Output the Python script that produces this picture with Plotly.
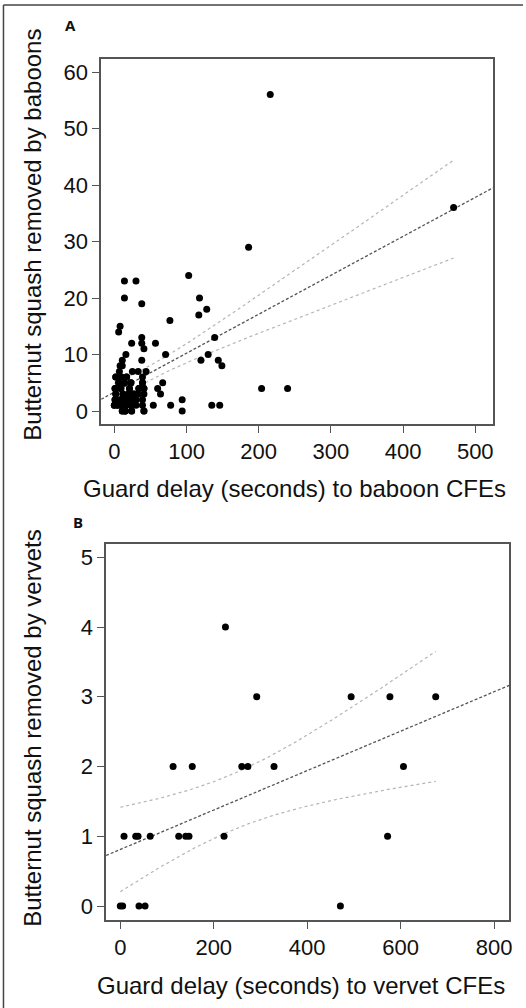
import numpy as np
import plotly.graph_objects as go

# ---------------- data ----------------
# Panel A: baboons (many points in the low cluster are overplotted)
baboon_delay = [216, 470, 186, 103, 14, 30, 14, 118, 38, 128, 117, 77, 8, 6, 38, 139,
                24, 38, 57, 41, 16, 71, 130, 11, 38, 120, 144, 8, 149, 204, 240, 94,
                94, 78, 54, 135, 146, 60, 67, 64,
                7, 25, 33, 44,
                2, 10, 17, 39,
                6, 14, 23, 39,
                1, 9, 21, 34, 41,
                2, 12, 20, 27, 33, 41,
                1, 9, 16, 23, 30, 39,
                0, 5, 12, 16, 23, 30, 39,
                11, 15, 24, 41,
                11,
                11, 15, 24, 41, 15,
                0, 5, 12, 16, 23,
                1, 9, 16, 23, 30,
                2, 12, 20, 27, 33,
                1, 9, 21, 34, 41,
                6, 14, 23, 39,
                2, 17]
baboon_squash = [56, 36, 29, 24, 23, 23, 20, 20, 19, 18, 17, 16, 15, 14, 13, 13,
                 12, 12, 12, 11, 10, 10, 10, 9, 9, 9, 9, 8, 8, 4, 4, 2,
                 0, 1, 1, 1, 1, 4, 5, 3,
                 7, 7, 7, 7,
                 6, 6, 6, 6,
                 5, 5, 5, 5,
                 4, 4, 4, 4, 4,
                 3, 3, 3, 3, 3, 3,
                 2, 2, 2, 2, 2, 2,
                 1, 1, 1, 1, 1, 1, 1,
                 0, 0, 0, 0,
                 8,
                 0, 0, 0, 0, 0,
                 1, 1, 1, 1, 1,
                 2, 2, 2, 2, 2,
                 3, 3, 3, 3, 3,
                 4, 4, 4, 4, 4,
                 5, 5, 5, 5,
                 6, 6]

# Panel B: vervets
vervet_delay = [113, 154, 260, 273, 329, 606,
                8, 33, 38, 64, 125, 140, 147, 222, 572,
                0, 5, 40, 53, 471,
                225,
                292, 494, 577, 675]
vervet_squash = [2, 2, 2, 2, 2, 2,
                 1, 1, 1, 1, 1, 1, 1, 1, 1,
                 0, 0, 0, 0, 0,
                 4,
                 3, 3, 3, 3]

x_ticks_a = [0, 100, 200, 300, 400, 500]
y_ticks_a = [0, 10, 20, 30, 40, 50, 60]
x_ticks_b = [0, 200, 400, 600, 800]
y_ticks_b = [0, 1, 2, 3, 4, 5]

x_range_a = [-18.3, 524.4]
y_range_a = [-2.3, 62.3]
x_range_b = [-30.4, 832.0]
y_range_b = [-0.2, 5.19]

title_xa = "Guard delay (seconds) to baboon CFEs"
title_ya = "Butternut squash removed by baboons"
title_xb = "Guard delay (seconds) to vervet CFEs"
title_yb = "Butternut squash removed by vervets"

W, H = 526, 1008
FONT = "Liberation Sans, Arial, sans-serif"


def t975(df):
    z = 1.959963985
    g1 = (z**3 + z) / 4
    g2 = (5 * z**5 + 16 * z**3 + 3 * z) / 96
    g3 = (3 * z**7 + 19 * z**5 + 17 * z**3 - 15 * z) / 384
    return z + g1 / df + g2 / df**2 + g3 / df**3


def fit(x, y, xr):
    x = np.asarray(x, float)
    y = np.asarray(y, float)
    n = len(x)
    b, a = np.polyfit(x, y, 1)
    s = np.sqrt(np.sum((y - (a + b * x)) ** 2) / (n - 2))
    sxx = np.sum((x - x.mean()) ** 2)
    xs = np.linspace(x.min(), x.max(), 200)
    se = s * np.sqrt(1 / n + (xs - x.mean()) ** 2 / sxx)
    t = t975(n - 2)
    yhat = a + b * xs
    xl = np.array(xr)
    return xl, a + b * xl, xs, yhat - t * se, yhat + t * se


fig = go.Figure()


def add_panel(x, y, xr, xa, ya):
    xl, yl, xs, lo, hi = fit(x, y, xr)
    for band in (lo, hi):
        fig.add_trace(go.Scatter(x=xs, y=band, mode="lines", xaxis=xa, yaxis=ya,
                                 line=dict(color="#b5b5b5", width=1.2, dash="dot"),
                                 hoverinfo="skip", showlegend=False))
    fig.add_trace(go.Scatter(x=xl, y=yl, mode="lines", xaxis=xa, yaxis=ya,
                             line=dict(color="#555555", width=1.3, dash="3px,2px"),
                             hoverinfo="skip", showlegend=False))
    fig.add_trace(go.Scatter(x=x, y=y, mode="markers", xaxis=xa, yaxis=ya,
                             marker=dict(color="black", size=7, line=dict(width=0)),
                             showlegend=False))


add_panel(baboon_delay, baboon_squash, x_range_a, "x", "y")
add_panel(vervet_delay, vervet_squash, x_range_b, "x2", "y2")


def ax(rng, dom, tv, anchor):
    return dict(range=rng, domain=dom, tickvals=tv, ticks="outside", ticklen=7,
                tickwidth=1.2, tickcolor="#555555", showline=True, linecolor="#555555",
                linewidth=1.5, mirror=True, showgrid=False, zeroline=False,
                anchor=anchor, tickfont=dict(family=FONT, size=22, color="#111111"))


fig.update_layout(
    width=W, height=H, autosize=False,
    margin=dict(l=0, r=0, t=0, b=0),
    paper_bgcolor="white", plot_bgcolor="white",
    xaxis=ax(x_range_a, [101.7 / W, 495.7 / W], x_ticks_a, "y"),
    yaxis=ax(y_range_a, [1 - 424 / H, 1 - 59 / H], y_ticks_a, "x"),
    xaxis2=ax(x_range_b, [106.7 / W, 512 / W], x_ticks_b, "y2"),
    yaxis2=ax(y_range_b, [1 - 920 / H, 1 - 544 / H], y_ticks_b, "x2"),
)

ann = []


def label(text, px, py, size=24, angle=0, bold=False, family=FONT):
    ann.append(dict(text=("<b>%s</b>" % text) if bold else text, x=px / W, y=1 - py / H,
                    xref="paper", yref="paper", showarrow=False, xanchor="center",
                    yanchor="middle", textangle=angle,
                    font=dict(family=family, size=size, color="#111111")))


label(title_xa, 296, 488)
label(title_ya, 32, 235, angle=-90)
label(title_xb, 303, 985)
label(title_yb, 32, 728, angle=-90)
label("A", 71, 25, size=15, bold=True, family="Open Sans, sans-serif")
label("B", 78, 522, size=15, bold=True, family="Open Sans, sans-serif")
fig.update_layout(annotations=ann)

# outer frame (top and left edges visible)
fig.add_shape(type="line", xref="paper", yref="paper", x0=3.5 / W, x1=1.0,
              y0=1 - 5 / H, y1=1 - 5 / H, line=dict(color="#444444", width=1.5))
fig.add_shape(type="line", xref="paper", yref="paper", x0=3.5 / W, x1=3.5 / W,
              y0=0, y1=1 - 5 / H, line=dict(color="#444444", width=1.5))

fig.write_html("out.html",
               config={"displayModeBar": False},
               post_script="document.body.style.margin='0';"
                           "document.body.style.overflow='hidden';")
